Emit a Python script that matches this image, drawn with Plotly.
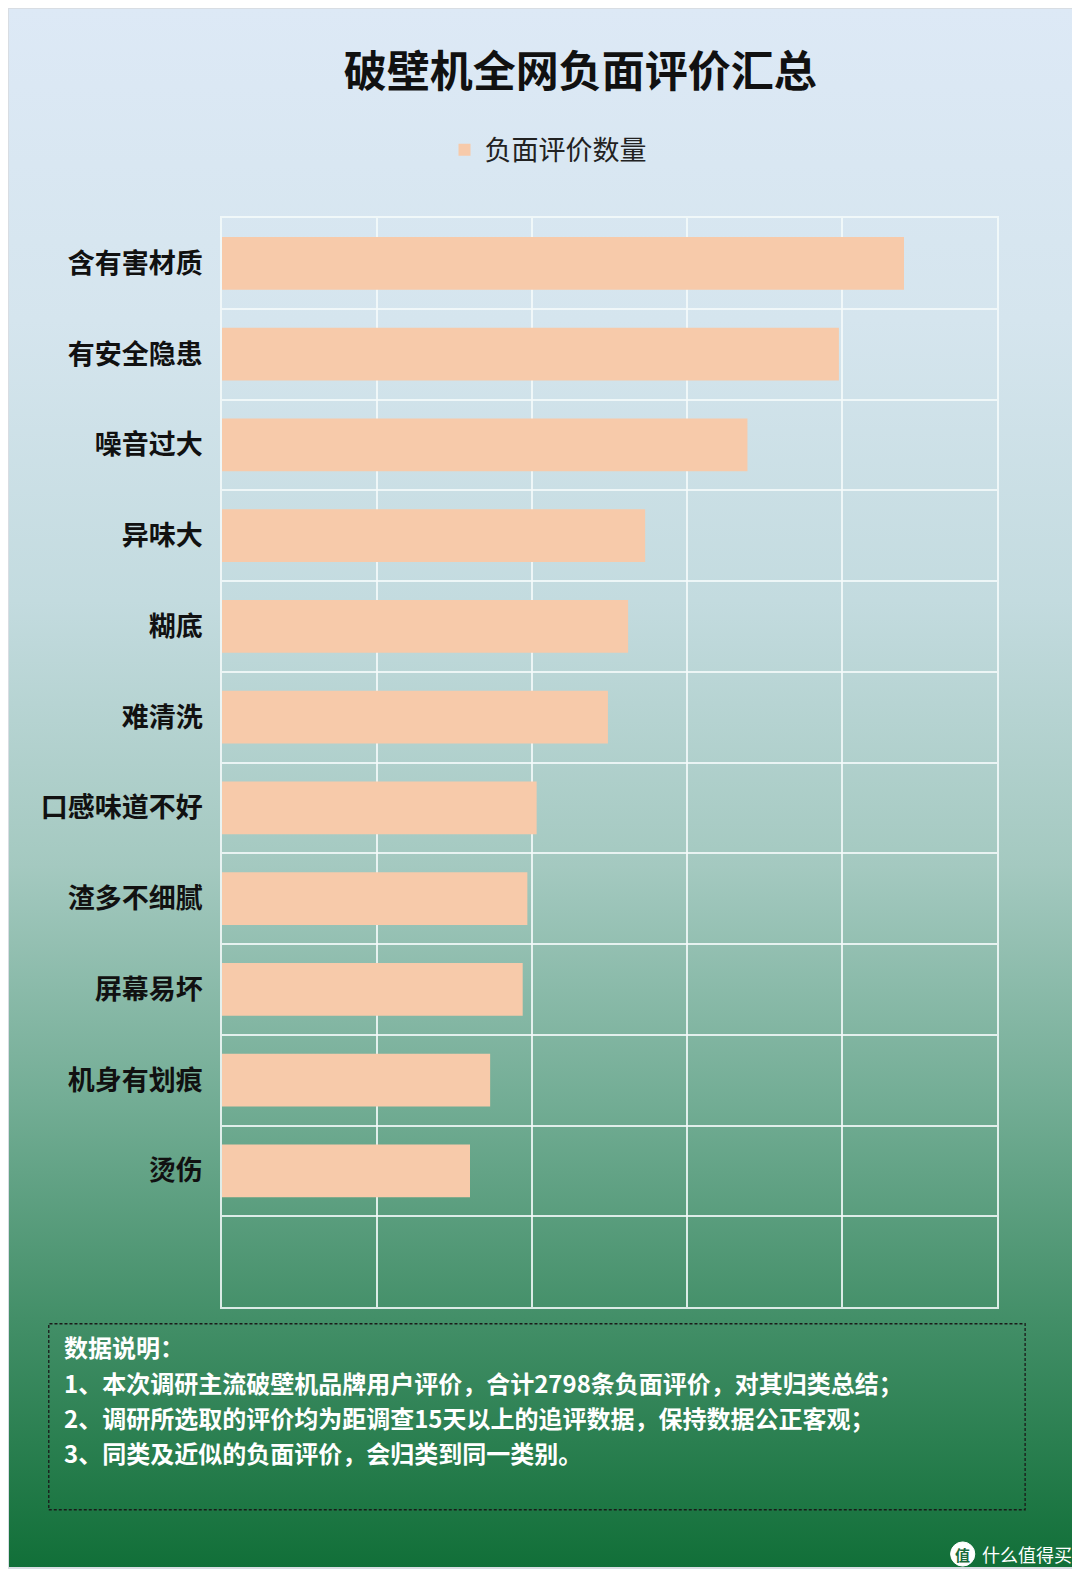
import base64
import plotly.graph_objects as go

# data, top to bottom as in the chart
categories = ["含有害材质", "有安全隐患", "噪音过大", "异味大", "糊底", "难清洗",
              "口感味道不好", "渣多不细腻", "屏幕易坏", "机身有划痕", "烫伤"]
counts = [440, 398, 339, 273, 262, 249, 203, 197, 194, 173, 160]
series_name = "负面评价数量"
title = "破壁机全网负面评价汇总"
notes = [
    "数据说明：",
    "1、本次调研主流破壁机品牌用户评价，合计2798条负面评价，对其归类总结；",
    "2、调研所选取的评价均为距调查15天以上的追评数据，保持数据公正客观；",
    "3、同类及近似的负面评价，会归类到同一类别。",
]

W, H = 1080, 1579


# the page is shown with a small body margin, so map picture pixels to figure pixels
def fx(p):
    return (p - 7.5) / 0.9935


def fy(p):
    return (p - 6.5) / 0.9945


L = round(fx(220))
R = W - round(fx(990))
T = round(fy(215))
B = H - round(fy(1298))
PW, PH = W - L - R, H - T - B


def px_x(p):
    return (fx(p) - L) / PW


def px_y(p):
    return (H - B - fy(p)) / PH


# background gradient (light blue -> green) as an svg image
svg = """<svg xmlns='http://www.w3.org/2000/svg' width='1080' height='1579' preserveAspectRatio='none'>
<defs><linearGradient id='g' x1='0' y1='0' x2='0' y2='1'>
<stop offset='0' stop-color='#dde9f6'/>
<stop offset='0.2' stop-color='#d5e5ee'/>
<stop offset='0.38' stop-color='#c3dbdf'/>
<stop offset='0.55' stop-color='#a4c9c0'/>
<stop offset='0.7' stop-color='#73ad95'/>
<stop offset='0.84' stop-color='#438f68'/>
<stop offset='1' stop-color='#116f38'/>
</linearGradient></defs>
<rect x='0' y='0' width='1074' height='1560' fill='url(#g)' stroke='#d8dde3' stroke-width='2'/>
</svg>"""
bg_src = "data:image/svg+xml;base64," + base64.b64encode(svg.encode("utf-8")).decode()

fig = go.Figure()
fig.add_trace(go.Bar(
    x=counts, y=categories, orientation="h", name=series_name,
    marker=dict(color="#f7caaa", line=dict(width=0)),
    width=0.58,
))

fig.update_layout(
    width=W, height=H,
    margin=dict(l=L, r=R, t=T, b=B),
    paper_bgcolor="white",
    plot_bgcolor="rgba(0,0,0,0)",
    font=dict(family="Noto Sans CJK SC", color="#111111"),
    title=dict(text="<b>" + title + "</b>", x=fx(576) / W, xanchor="center",
               y=1 - fy(70) / H, yanchor="middle",
               font=dict(size=43, color="#111111")),
    showlegend=True,
    legend=dict(orientation="h", x=px_x(544), xanchor="center", y=px_y(148), yanchor="middle",
                font=dict(size=27, color="#222222"), bgcolor="rgba(0,0,0,0)",
                itemwidth=30),
    images=[dict(source=bg_src, xref="paper", yref="paper",
                 x=-L / PW, y=1 + T / PH, sizex=W / PW, sizey=H / PH,
                 xanchor="left", yanchor="top", sizing="stretch", layer="below")],
)

grid = "rgba(245,250,250,0.85)"
fig.update_xaxes(range=[0, 500], dtick=100, showticklabels=False,
                 showgrid=True, gridcolor=grid, gridwidth=1.5,
                 zeroline=False, showline=True, mirror=True,
                 linecolor=grid, linewidth=1.5, fixedrange=True)
fig.update_yaxes(categoryorder="array", categoryarray=categories[::-1],
                 range=[-1.5, len(categories) - 0.5], tickson="boundaries",
                 showgrid=True, gridcolor=grid, gridwidth=1.5,
                 showline=True, mirror=True, linecolor=grid, linewidth=1.5,
                 ticks="", ticklabelstandoff=12,
                 tickfont=dict(size=27, color="#111111", family="Noto Sans CJK SC"),
                 tickprefix="<b>", ticksuffix="</b>")

# notes box
fig.add_shape(type="rect", xref="paper", yref="paper",
              x0=px_x(48), x1=px_x(1018), y0=px_y(1500), y1=px_y(1315),
              line=dict(color="#1a1a1a", width=1.3, dash="3px,2px"), layer="above")
for i, line in enumerate(notes):
    fig.add_annotation(text="<b>" + line + "</b>", xref="paper", yref="paper",
                       x=px_x(61), y=px_y(1338 + 35 * i), xanchor="left", yanchor="middle",
                       showarrow=False, font=dict(size=24, color="white", family="Noto Sans CJK SC"))

# watermark
fig.add_shape(type="circle", xref="paper", yref="paper",
              x0=px_x(944), x1=px_x(968), y0=px_y(1556), y1=px_y(1532),
              fillcolor="white", line=dict(color="white", width=1), layer="above")
fig.add_annotation(text="<b>值</b>", xref="paper", yref="paper",
                   x=px_x(956), y=px_y(1544), xanchor="center", yanchor="middle",
                   showarrow=False, font=dict(size=15, color="#1a6a3a"))
fig.add_annotation(text="什么值得买", xref="paper", yref="paper",
                   x=px_x(973), y=px_y(1544), xanchor="left", yanchor="middle",
                   showarrow=False, font=dict(size=18, color="white"))

fig.write_html("out.html")
